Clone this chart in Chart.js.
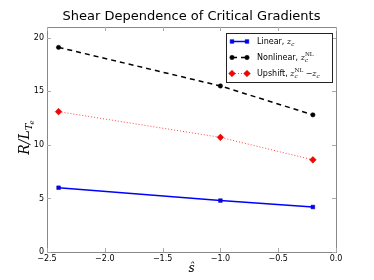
<!DOCTYPE html>
<html><head><meta charset="utf-8">
<script src="https://cdn.jsdelivr.net/npm/chart.js@4"></script>
<style>html,body{margin:0;padding:0;background:#fff}#c{display:block}</style>
</head>
<body>
<canvas id="c" width="374" height="280"></canvas>
<script>
const shear = [-2.4, -1.0, -0.2];
const linear = [6.0, 4.8, 4.2];
const nonlinear = [19.1, 15.5, 12.8];
const upshift = [13.1, 10.7, 8.6];
const xTicks = [-2.5, -2.0, -1.5, -1.0, -0.5, 0.0];
const yTicks = [0, 5, 10, 15, 20];
const titleText = 'Shear Dependence of Critical Gradients';
const xLabel = 'ŝ';
const seriesNames = ['Linear, ', 'Nonlinear, ', 'Upshift, '];

function pts(ys){ return shear.map((x,i)=>({x:x, y:ys[i]})); }
function fmt(v){ return (v<0?'\u2212':'') + Math.abs(v).toFixed(1); }

const mathPieces = [
  [{t:'z',k:'m'},{t:'c',k:'sub'}],
  [{t:'z',k:'m'},{t:'c',k:'sub'},{t:'NL',k:'sup',back:true}],
  [{t:'z',k:'m'},{t:'c',k:'sub'},{t:'NL',k:'sup',back:true},{t:' \u2212',k:'op'},{t:'z',k:'m'},{t:'c',k:'sub'}]
];

function drawMath(ctx, pieces, x, y, size){
  let cx = x, lastSubStart = x, lastSubW = 0;
  pieces.forEach(p=>{
    let fs = size, dy = 0, font;
    if(p.k==='m'){ font = 'italic '+size+'px "DejaVu Serif"'; }
    else if(p.k==='op'){ font = size+'px "DejaVu Sans"'; }
    else if(p.k==='sub'){ fs = size*0.7; dy = size*0.25; font = 'italic '+fs+'px "DejaVu Serif"'; }
    else { fs = size*0.7; dy = -size*0.45; font = fs+'px "DejaVu Serif"'; }
    ctx.font = font;
    let px = cx;
    if(p.back){ px = lastSubStart; }
    ctx.fillText(p.t, px, y+dy);
    const w = ctx.measureText(p.t).width;
    if(p.k==='sub'){ lastSubStart = px; lastSubW = w; cx = px + w; }
    else if(p.back){ cx = Math.max(lastSubStart+lastSubW, px + w); }
    else cx = px + w;
  });
}

const decor = {
  id:'decor',
  afterDraw(chart){
    const ctx = chart.ctx, a = chart.chartArea;
    const xs = chart.scales.x, ys = chart.scales.y;
    ctx.save();
    ctx.strokeStyle = '#888';
    ctx.lineWidth = 1;
    ctx.strokeRect(Math.round(a.left)+0.5, Math.round(a.top)+0.5, Math.round(a.right-a.left), Math.round(a.bottom-a.top));
    ctx.strokeStyle = '#aaa';
    ctx.beginPath();
    xTicks.forEach(v=>{
      const px = Math.round(xs.getPixelForValue(v))+0.5;
      ctx.moveTo(px, a.bottom); ctx.lineTo(px, a.bottom-4);
      ctx.moveTo(px, a.top); ctx.lineTo(px, a.top+4);
    });
    yTicks.forEach(v=>{
      const py = Math.round(ys.getPixelForValue(v))+0.5;
      ctx.moveTo(a.left, py); ctx.lineTo(a.left+4, py);
      ctx.moveTo(a.right, py); ctx.lineTo(a.right-4, py);
    });
    ctx.stroke();
    // title
    ctx.fillStyle = '#000';
    ctx.textAlign = 'center'; ctx.textBaseline = 'middle';
    ctx.font = '13px "DejaVu Sans"';
    ctx.fillText(titleText, (a.left+a.right)/2, 17);
    // x label
    ctx.font = 'italic 12px "DejaVu Serif"';
    ctx.fillText(xLabel, (a.left+a.right)/2, 269);
    // y label R/L_{T_e}
    ctx.save();
    ctx.translate(29, 137);
    ctx.rotate(-Math.PI/2);
    ctx.textAlign = 'left'; ctx.textBaseline = 'alphabetic';
    ctx.font = 'italic 14px "DejaVu Serif"';
    const mainW = ctx.measureText('R/L').width;
    ctx.font = 'italic 10px "DejaVu Serif"';
    const tW = ctx.measureText('T').width;
    ctx.font = 'italic 7px "DejaVu Serif"';
    const eW = ctx.measureText('e').width;
    const total = mainW + tW + eW;
    let sx = -total/2;
    ctx.font = 'italic 14px "DejaVu Serif"';
    ctx.fillText('R/L', sx, 0);
    ctx.font = 'italic 10px "DejaVu Serif"';
    ctx.fillText('T', sx+mainW, 3);
    ctx.font = 'italic 7px "DejaVu Serif"';
    ctx.fillText('e', sx+mainW+tW-1, 5);
    ctx.restore();
    // legend
    const L = {x:226, y:33, w:106, h:49};
    ctx.fillStyle = '#fff';
    ctx.fillRect(L.x, L.y, L.w, L.h);
    ctx.strokeStyle = '#222';
    ctx.strokeRect(L.x+0.5, L.y+0.5, L.w, L.h);
    const rows = [41, 57, 73];
    chart.data.datasets.forEach((ds,i)=>{
      const ry = rows[i];
      ctx.save();
      ctx.strokeStyle = ds.borderColor;
      ctx.lineWidth = ds.borderWidth;
      ctx.setLineDash(ds.borderDash||[]);
      ctx.beginPath(); ctx.moveTo(232, ry+0.5); ctx.lineTo(247, ry+0.5); ctx.stroke();
      ctx.setLineDash([]);
      ctx.fillStyle = ds.pointBackgroundColor;
      ctx.strokeStyle = ds.pointBorderColor;
      ctx.lineWidth = 0.5;
      [232,247].forEach(mx=>{
        Chart.helpers.drawPoint(ctx, {pointStyle: ds.pointStyle, rotation: 0, radius: ds.pointRadius, borderWidth: 0.5}, mx, ry+0.5);
      });
      ctx.restore();
      ctx.fillStyle = '#000';
      ctx.textAlign = 'left'; ctx.textBaseline = 'alphabetic';
      ctx.font = '8px "DejaVu Sans"';
      ctx.fillText(seriesNames[i], 257, ry+3);
      const w = ctx.measureText(seriesNames[i]).width;
      drawMath(ctx, mathPieces[i], 257+w, ry+3, 8);
    });
    ctx.restore();
  }
};

new Chart(document.getElementById('c'), {
  type: 'scatter',
  data: {
    datasets: [
      {label:'Linear', data: pts(linear), showLine:true, borderColor:'#0000ff', backgroundColor:'#0000ff',
       borderWidth:1.5, pointStyle:'rect', pointRadius:2.6, pointBackgroundColor:'#0000ff', pointBorderColor:'#0000aa', pointBorderWidth:0.5},
      {label:'Nonlinear', data: pts(nonlinear), showLine:true, borderColor:'#000000', backgroundColor:'#000',
       borderWidth:1.5, borderDash:[5,4], pointStyle:'circle', pointRadius:2.2, pointBackgroundColor:'#000', pointBorderColor:'#000', pointBorderWidth:0.5},
      {label:'Upshift', data: pts(upshift), showLine:true, borderColor:'#ff4444', backgroundColor:'#ff0000',
       borderWidth:1, borderDash:[1,2], pointStyle:'rectRot', pointRadius:3.3, pointBackgroundColor:'#ff0000', pointBorderColor:'#aa0000', pointBorderWidth:0.5}
    ]
  },
  options: {
    responsive:false, animation:false, devicePixelRatio:1,
    layout:{padding:{top:27, right:38, left:0, bottom:0}},
    plugins:{legend:{display:false}, title:{display:false}, tooltip:{enabled:false}},
    scales:{
      x:{type:'linear', min:-2.5, max:0, afterFit(s){s.height=28;},
         afterBuildTicks(s){ s.ticks = xTicks.map(v=>({value:v})); },
         grid:{display:false, drawTicks:false, tickLength:0}, border:{display:false},
         ticks:{font:{family:'DejaVu Sans', size:8}, color:'#000', padding:2, maxRotation:0, callback:v=>fmt(v)}},
      y:{type:'linear', min:0, max:21, afterFit(s){s.width=47;},
         afterBuildTicks(s){ s.ticks = yTicks.map(v=>({value:v})); },
         grid:{display:false, drawTicks:false, tickLength:0}, border:{display:false},
         ticks:{font:{family:'DejaVu Sans', size:8}, color:'#000', padding:3, callback:v=>String(v)}}
    }
  },
  plugins:[decor]
});
</script>
</body></html>
